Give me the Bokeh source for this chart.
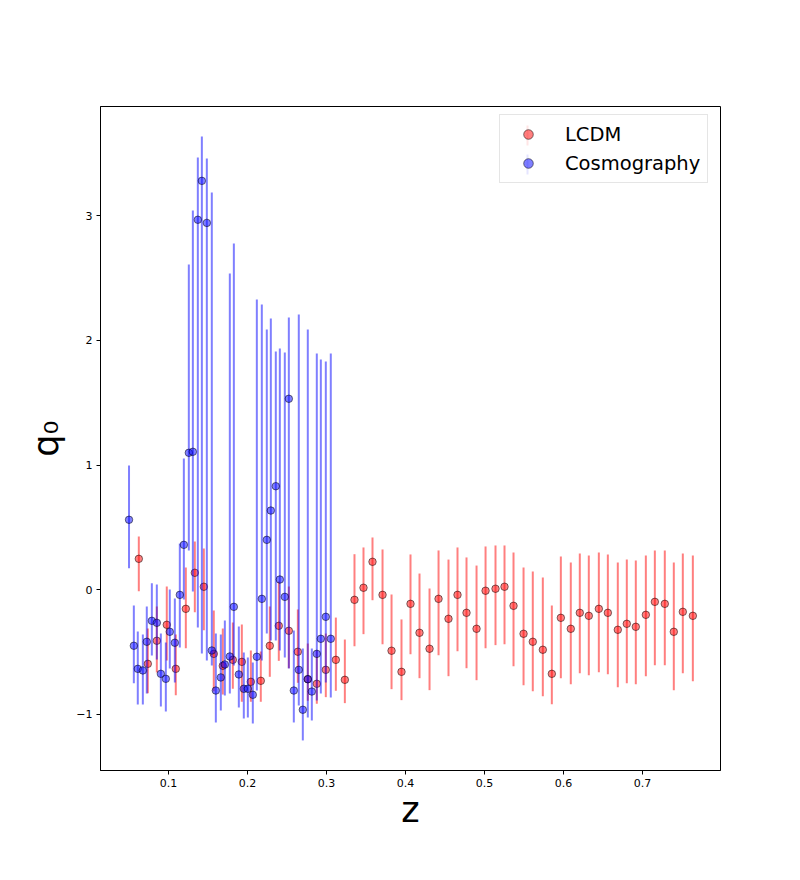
from bokeh.plotting import figure
from bokeh.models import Range1d, FixedTicker, Legend, LegendItem, BoxAnnotation, ColumnDataSource
from bokeh.embed import file_html
from bokeh.resources import INLINE

# ---- data ----
z_lcdm = [0.0624, 0.0738, 0.0852, 0.0978, 0.1092, 0.1219, 0.1333, 0.1447, 0.1573, 0.1687,
          0.1814, 0.1928, 0.2042, 0.2168, 0.2282, 0.2396, 0.2523, 0.2637, 0.2763, 0.2877,
          0.2991, 0.3118, 0.3232, 0.3354, 0.3468, 0.3582, 0.3709, 0.3823, 0.3949, 0.4063,
          0.4177, 0.4304, 0.4418, 0.4544, 0.4658, 0.4772, 0.4899, 0.5013, 0.5139, 0.5253,
          0.5367, 0.5494, 0.5611, 0.5738, 0.5852, 0.5966, 0.6092, 0.6206, 0.6320, 0.6447,
          0.6561, 0.6687, 0.6801, 0.6915, 0.7042, 0.7156, 0.7282, 0.7396, 0.7510, 0.7637]
q_lcdm = [0.248, -0.594, -0.409, -0.281, -0.634, -0.153, 0.136, 0.024, -0.514, -0.610,
          -0.562, -0.578, -0.738, -0.730, -0.449, -0.289, -0.329, -0.497, -0.717, -0.754,
          -0.642, -0.562, -0.722, -0.081, 0.016, 0.224, -0.041, -0.489, -0.658, -0.113,
          -0.345, -0.473, -0.073, -0.233, -0.041, -0.185, -0.313, -0.008, 0.008, 0.024,
          -0.129, -0.353, -0.417, -0.481, -0.674, -0.225, -0.313, -0.185, -0.209, -0.153,
          -0.185, -0.321, -0.273, -0.297, -0.201, -0.097, -0.113, -0.337, -0.177, -0.209]
lo_lcdm = [-0.012, -0.829, -0.663, -0.567, -0.845, -0.469, -0.180, -0.324, -0.813, -0.840,
           -0.794, -0.898, -0.898, -0.898, -0.698, -0.570, -0.629, -0.746, -0.890, -0.914,
           -0.861, -0.810, -0.909, -0.453, -0.356, -0.084, -0.437, -0.797, -0.885, -0.517,
           -0.709, -0.805, -0.525, -0.693, -0.493, -0.629, -0.725, -0.469, -0.444, -0.437,
           -0.613, -0.765, -0.813, -0.853, -0.918, -0.709, -0.757, -0.669, -0.685, -0.661,
           -0.677, -0.781, -0.749, -0.757, -0.693, -0.605, -0.605, -0.805, -0.669, -0.733]
hi_lcdm = [0.427, -0.311, -0.134, 0.026, -0.359, 0.178, 0.387, 0.331, -0.166, -0.311,
           -0.263, -0.279, -0.487, -0.495, -0.134, 0.066, 0.026, -0.158, -0.431, -0.487,
           -0.351, -0.223, -0.399, 0.285, 0.339, 0.419, 0.323, -0.038, -0.238, 0.283,
           0.130, 0.010, 0.315, 0.242, 0.339, 0.259, 0.194, 0.347, 0.355, 0.355,
           0.299, 0.178, 0.146, 0.098, -0.126, 0.267, 0.218, 0.291, 0.275, 0.299,
           0.283, 0.218, 0.242, 0.234, 0.275, 0.315, 0.315, 0.218, 0.291, 0.275]

z_cosmo = [0.0500, 0.0561, 0.0611, 0.0675, 0.0725, 0.0789, 0.0852, 0.0903, 0.0966, 0.1016,
           0.1080, 0.1143, 0.1194, 0.1257, 0.1308, 0.1371, 0.1422, 0.1485, 0.1548, 0.1599,
           0.1662, 0.1713, 0.1776, 0.1827, 0.1890, 0.1953, 0.2004, 0.2067, 0.2118, 0.2181,
           0.2244, 0.2295, 0.2358, 0.2409, 0.2472, 0.2523, 0.2586, 0.2649, 0.2700, 0.2763,
           0.2814, 0.2877, 0.2928, 0.2991, 0.3054]
q_cosmo = [0.561, -0.449, -0.634, -0.647, -0.417, -0.249, -0.265, -0.674, -0.714, -0.337,
           -0.425, -0.041, 0.360, 1.098, 1.106, 2.966, 3.278, 2.941, -0.487, -0.808,
           -0.703, -0.599, -0.535, -0.137, -0.679, -0.794, -0.794, -0.842, -0.537, -0.073,
           0.400, 0.635, 0.830, 0.082, -0.057, 1.531, -0.808, -0.642, -0.962, -0.717,
           -0.816, -0.514, -0.393, -0.217, -0.393]
lo_cosmo = [0.173, -0.749, -0.920, -0.920, -0.832, -0.527, -0.559, -0.936, -0.976, -0.631,
            -0.744, -0.463, -0.078, 0.315, -0.014, -0.303, -0.511, -0.567, -0.607, -1.064,
            -0.968, -0.848, -0.832, -0.607, -0.944, -1.032, -1.024, -1.072, -0.808, -0.567,
            -0.351, -0.407, -0.407, -0.487, -0.543, -0.631, -1.064, -0.928, -1.208, -1.024,
            -1.048, -0.888, -0.832, -0.744, -0.864]
hi_cosmo = [0.996, -0.126, -0.335, -0.359, -0.134, 0.052, 0.042, -0.351, -0.423, 0.002,
            -0.070, 0.371, 1.052, 2.607, 3.040, 3.465, 3.633, 3.457, 3.184, -0.351,
            -0.359, -0.247, 2.535, 2.776, -0.295, -0.503, -0.543, -0.583, 2.327, 2.287,
            2.086, 2.174, 1.910, 1.934, 1.902, 2.182, -0.327, 2.206, -0.471, 2.086,
            -0.471, 1.894, 1.846, 1.830, 1.894]

x_ticks = [0.1, 0.2, 0.3, 0.4, 0.5, 0.6, 0.7]
y_ticks = [-1, 0, 1, 2, 3]

FONT = "DejaVu Sans"

p = figure(frame_width=620, frame_height=664,
           x_range=Range1d(0.0139, 0.7987), y_range=Range1d(-1.449, 3.874),
           output_backend="svg", toolbar_location=None,
           min_border_left=100, min_border_right=64, min_border_top=106, min_border_bottom=94)
p.background_fill_color = "white"
p.border_fill_color = "white"
p.outline_line_color = "black"
p.outline_line_width = 1
p.outline_line_alpha = 1
p.xgrid.visible = False
p.ygrid.visible = False

for ax in (p.xaxis[0], p.yaxis[0]):
    ax.axis_line_color = "black"
    ax.major_tick_line_color = "black"
    ax.major_tick_in = 0
    ax.major_tick_out = 4
    ax.minor_tick_line_color = None
    ax.major_label_text_font = FONT
    ax.major_label_text_font_size = "11px"
    ax.major_label_text_color = "black"
    ax.major_label_standoff = 4
    ax.axis_label_text_font = FONT
    ax.axis_label_text_font_size = "35px"
    ax.axis_label_text_font_style = "normal"
    ax.axis_label_text_color = "black"

p.xaxis.ticker = FixedTicker(ticks=x_ticks)
p.yaxis.ticker = FixedTicker(ticks=y_ticks)
p.yaxis.major_label_overrides = {-1: "\u22121"}
p.xaxis.axis_label = "z"
p.yaxis.axis_label = "q\u2080"
p.xaxis.axis_label_standoff = 0
p.yaxis.axis_label_standoff = 7

src_l = ColumnDataSource(dict(z=z_lcdm, q=q_lcdm, lo=lo_lcdm, hi=hi_lcdm))
src_c = ColumnDataSource(dict(z=z_cosmo, q=q_cosmo, lo=lo_cosmo, hi=hi_cosmo))

p.segment(x0="z", y0="lo", x1="z", y1="hi", source=src_l,
          line_color="red", line_alpha=0.5, line_width=2)
r_l = p.scatter(x="z", y="q", source=src_l, marker="circle", size=7.5,
                fill_color="red", fill_alpha=0.5, line_color="black", line_alpha=0.5, line_width=1)
p.segment(x0="z", y0="lo", x1="z", y1="hi", source=src_c,
          line_color="blue", line_alpha=0.5, line_width=2)
r_c = p.scatter(x="z", y="q", source=src_c, marker="circle", size=7.5,
                fill_color="blue", fill_alpha=0.5, line_color="black", line_alpha=0.5, line_width=1)

legend = Legend(items=[LegendItem(label="LCDM", renderers=[r_l]),
                       LegendItem(label="Cosmography", renderers=[r_c])],
                location=(399, 587), margin=0, padding=7, spacing=5,
                glyph_width=42, glyph_height=24, label_height=24, label_standoff=16,
                label_text_font=FONT, label_text_font_size="19.5px", label_text_color="black",
                border_line_color="#cccccc", border_line_width=1,
                background_fill_color="white", background_fill_alpha=0.8,
                level="underlay")
p.add_layout(legend)

# vertical error-bar strokes of the legend glyphs (screen units, frame relative)
for cy, col in ((635, "red"), (606, "blue")):
    p.add_layout(BoxAnnotation(left=426, right=428, bottom=cy - 10, top=cy + 10,
                               left_units="screen", right_units="screen",
                               bottom_units="screen", top_units="screen",
                               fill_color=col, fill_alpha=0.5, line_color=None,
                               level="overlay"))

open("out.html", "w").write(file_html(p, INLINE))
